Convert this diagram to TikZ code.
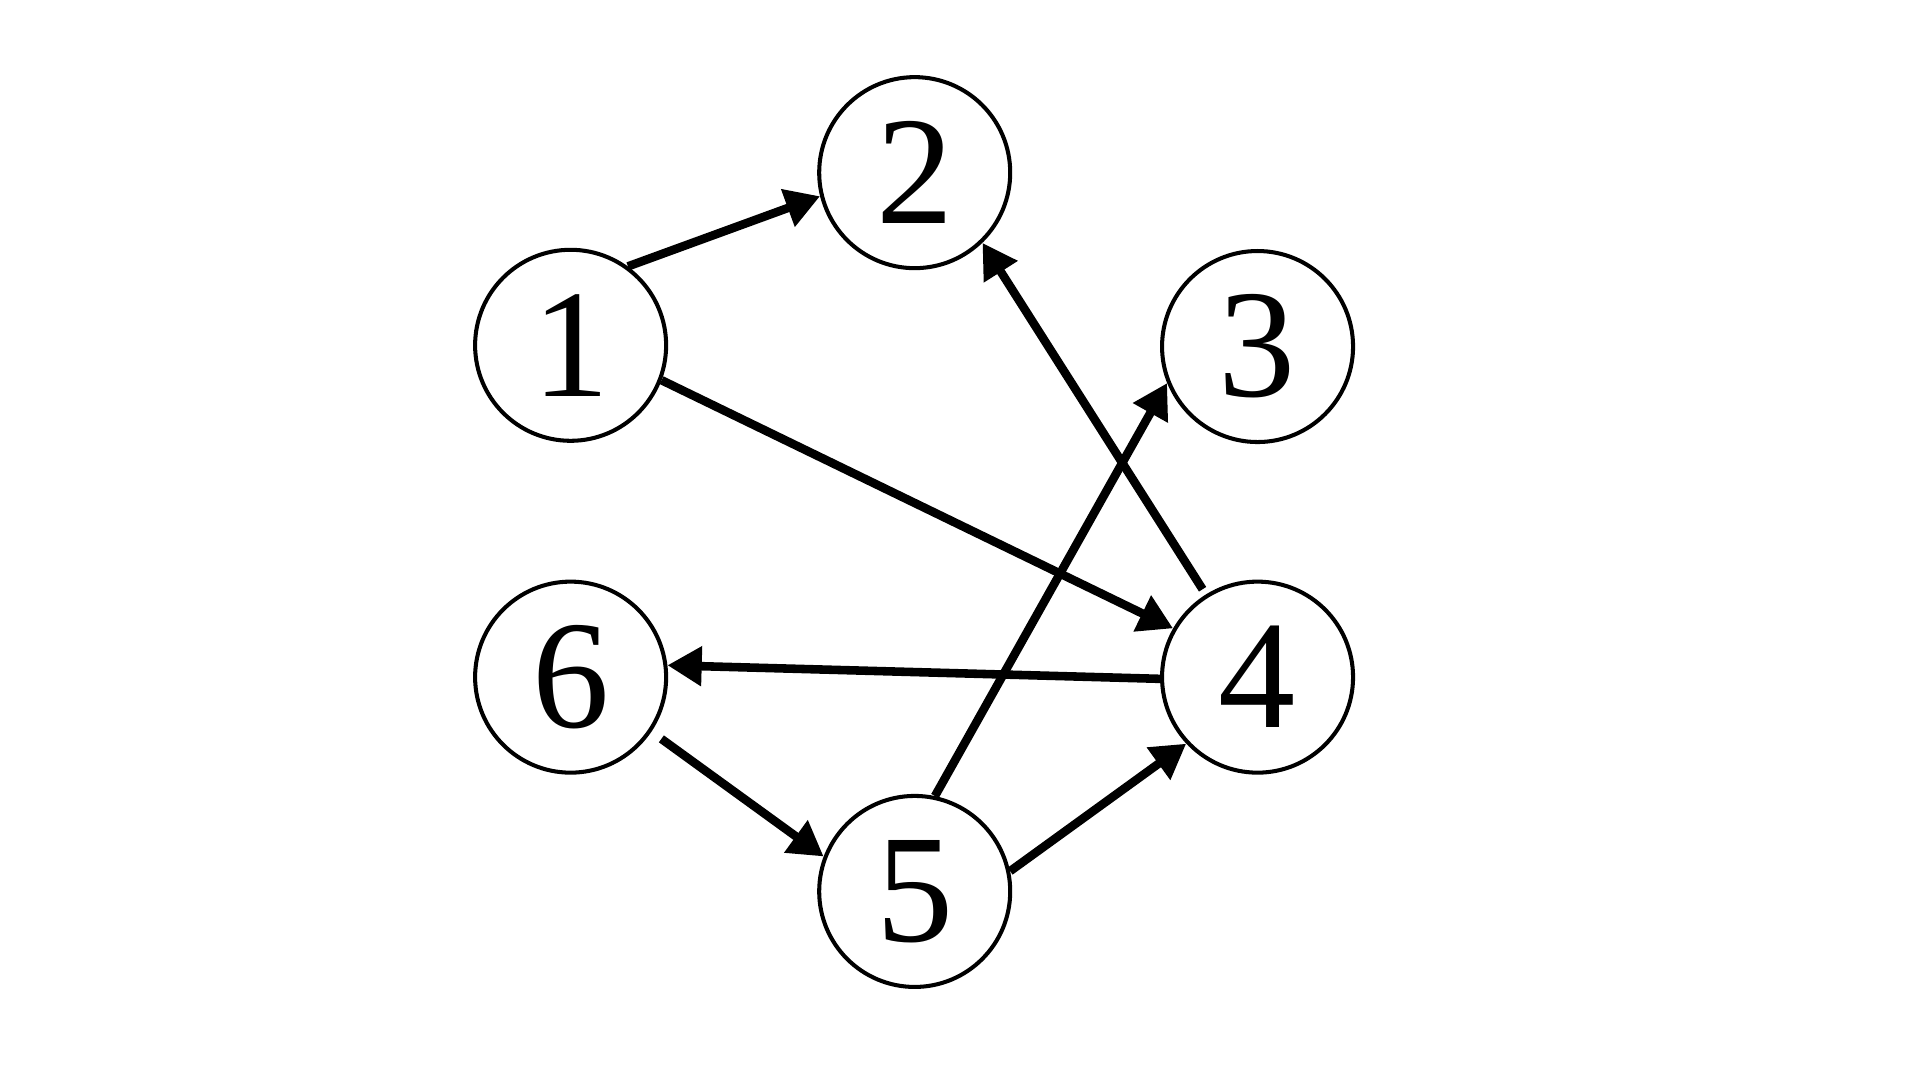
\documentclass[tikz,border=0pt]{standalone}
\usepackage{fontspec}
\setmainfont{Liberation Serif}
\usetikzlibrary{arrows.meta}
\begin{document}
\begin{tikzpicture}[x=1pt,y=-1pt,
  vertex/.style={circle,draw,line width=3.3pt,minimum size=156pt,inner sep=0pt,font=\fontsize{126}{126}\selectfont},
  edge/.style={line width=7pt,-{Triangle[length=28pt,width=31pt]}}]
\useasboundingbox (0,0) rectangle (1568,882);
\node[vertex] (n1) at (466,282) {1};
\node[vertex] (n2) at (747,141) {2};
\node[vertex] (n3) at (1027,283) {3};
\node[vertex] (n4) at (1027,553) {4};
\node[vertex] (n5) at (747,728) {5};
\node[vertex] (n6) at (466,553) {6};
\draw[edge] (n1.54) -- (n2.194);
\draw[edge] (n1.-21) -- (n4.150);
\draw[edge,shorten <=5pt] (n4.122) -- (n2.-46);
\draw[edge] (n5.78) -- (n3.202);
\draw[edge] (n4.181) -- (n6.7);
\draw[edge,shorten <=10pt] (n6.-34) -- (n5.159);
\draw[edge] (n5.12) -- (n4.223);
\end{tikzpicture}
\end{document}
